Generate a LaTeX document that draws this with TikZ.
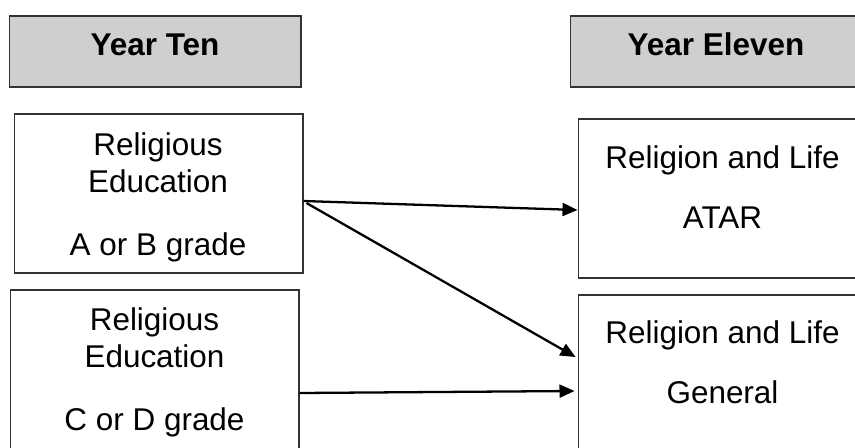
\documentclass[tikz,border=0pt]{standalone}
\usepackage{fontspec}
\setmainfont{Liberation Sans}
\usetikzlibrary{positioning, arrows.meta}
\definecolor{hdrGray}{HTML}{D0CFD0}
\definecolor{edgeGray}{HTML}{333333}
\newcommand{\flowfont}{\fontsize{17.9pt}{21.6pt}\selectfont}
\tikzset{
  every node/.style={font=\flowfont},
  arr/.style={-{Triangle[length=0.3cm, width=0.26cm]}, line width=1.3pt},
  box/.style={draw=edgeGray, line width=0.6pt, fill=white, minimum width=5.78cm,
              minimum height=3.18cm, inner sep=0pt},
  hdr/.style={box, fill=hdrGray, minimum width=5.84cm, minimum height=1.42cm},
  txt/.style={inner sep=0pt, align=center, anchor=base},
}

\begin{document}
\begin{tikzpicture}[x=0.02cm, y=-0.02cm]
  \clip (0,0) rectangle (855,447);
  % year headers
  \node[hdr] (yTen) at (155,51.5) {};
  \node[hdr] (yEleven) at (716,51.5) {};
  \node[txt, font=\flowfont\bfseries] (tTen) at (155,55) {Year Ten};
  \node[txt, font=\flowfont\bfseries] (tEleven) at (716,55) {Year Eleven};
  % year ten courses (base = last line)
  \node[box] (reAB) at (158.5,193.5) {};
  \node[box] (reCD) at (154.5,369.5) {};
  \node[txt] (tAB) at (158,255) {Religious\\Education\\[13.7pt]A or B grade};
  \node[txt] (tCD) at (154.5,430) {Religious\\Education\\[13.7pt]C or D grade};
  % year eleven courses
  \node[box] (rlATAR) at (722.5,198.5) {};
  \node[box] (rlGen) at (722.5,374.5) {};
  \node[txt] (tATAR) at (722.5,228) {Religion and Life\\[12.5pt]ATAR};
  \node[txt] (tGen) at (722.5,403) {Religion and Life\\[12.5pt]General};
  % pathways
  \draw[arr] ([yshift=-0.15cm]reAB.east) -- ([yshift=-0.23cm]rlATAR.west);
  \draw[arr] ([xshift=0.06cm, yshift=-0.19cm]reAB.east) -- ([xshift=-0.04cm, yshift=0.35cm]rlGen.west);
  \draw[arr] ([yshift=-0.47cm]reCD.east) -- ([xshift=-0.06cm, yshift=-0.33cm]rlGen.west);
\end{tikzpicture}
\end{document}
